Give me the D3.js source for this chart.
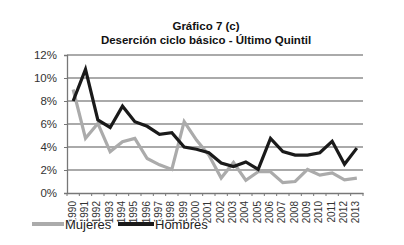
<!DOCTYPE html>
<html>
<head>
<meta charset="utf-8">
<script src="https://cdn.jsdelivr.net/npm/d3@7"></script>
<style>
  body { margin: 0; background: #fff; }
  text { font-family: "Liberation Sans", Arial, sans-serif; }
</style>
</head>
<body>
<div id="chart"></div>
<script>
const years = ["1990", "1991", "1992", "1993", "1994", "1995", "1996", "1997", "1998", "1999", "2000", "2001",
  "2002", "2003", "2004", "2005", "2006", "2007", "2008", "2009", "2010", "2011", "2012", "2013"];
const mujeres = [9.0, 4.75, 6.05, 3.6, 4.45, 4.75, 3.0, 2.45, 2.05, 6.2, 4.6, 3.3,
  1.3, 2.65, 1.1, 1.85, 1.85, 0.9, 1.0, 2.05, 1.55, 1.75, 1.15, 1.3];
const hombres = [8.0, 10.75, 6.35, 5.7, 7.55, 6.2, 5.8, 5.1, 5.25, 4.0, 3.8, 3.5,
  2.6, 2.3, 2.7, 2.05, 4.75, 3.6, 3.3, 3.3, 3.5, 4.5, 2.5, 3.9];
const yTicks = [0, 2, 4, 6, 8, 10, 12];
const titleLines = ["Gráfico 7 (c)", "Deserción ciclo básico - Último Quintil"];

const W = 404, H = 245;
const margin = { left: 67, right: 363, top: 55, bottom: 193 };

const svg = d3.select("#chart").append("svg")
  .attr("width", W).attr("height", H);

const x = d3.scaleBand().domain(years).range([margin.left, margin.right]);
const y = d3.scaleLinear().domain([0, 12]).range([margin.bottom, margin.top]);

// title
svg.selectAll(".title")
  .data(titleLines)
  .join("text")
  .attr("class", "title")
  .attr("x", 206)
  .attr("y", (d, i) => 30 + i * 13.5)
  .attr("text-anchor", "middle")
  .attr("font-size", 11.5)
  .attr("font-weight", "bold")
  .attr("fill", "#111")
  .text(d => d);

// gridlines
svg.append("g")
  .selectAll("line")
  .data(yTicks.filter(d => d > 0))
  .join("line")
  .attr("x1", margin.left).attr("x2", margin.right)
  .attr("y1", d => y(d)).attr("y2", d => y(d))
  .attr("stroke", "#8e8e8e")
  .attr("stroke-width", 1.3);

// y axis
const yAxis = svg.append("g")
  .attr("transform", `translate(${margin.left},0)`)
  .call(d3.axisLeft(y).tickValues(yTicks).tickSize(3).tickFormat(d => d + "%"));
yAxis.select(".domain").attr("stroke", "#777").attr("stroke-width", 1.3);
yAxis.selectAll(".tick line").attr("stroke", "#777");
yAxis.selectAll("text")
  .attr("font-family", "Liberation Sans, Arial, sans-serif")
  .attr("font-size", 11.5)
  .attr("fill", "#333")
  .attr("x", -10);

// x axis
const xAxis = svg.append("g")
  .attr("transform", `translate(0,${margin.bottom})`)
  .call(d3.axisBottom(x).tickSize(0));
xAxis.select(".domain").attr("stroke", "#777").attr("stroke-width", 1.3);
xAxis.selectAll("text")
  .attr("font-family", "Liberation Sans, Arial, sans-serif")
  .attr("font-size", 10)
  .attr("fill", "#333")
  .attr("transform", "rotate(-90)")
  .attr("text-anchor", "end")
  .attr("x", -8)
  .attr("y", -1)
  .attr("dy", "0.35em");

// boundary ticks
svg.append("g")
  .selectAll("line")
  .data(d3.range(years.length + 1))
  .join("line")
  .attr("x1", i => margin.left + i * x.step())
  .attr("x2", i => margin.left + i * x.step())
  .attr("y1", margin.bottom).attr("y2", margin.bottom + 3)
  .attr("stroke", "#777");

const line = d3.line()
  .x((d, i) => x(years[i]) + x.bandwidth() / 2)
  .y(d => y(d));

svg.append("path")
  .datum(mujeres)
  .attr("d", line)
  .attr("fill", "none")
  .attr("stroke", "#ababab")
  .attr("stroke-width", 3.2)
  .attr("stroke-linejoin", "miter");

svg.append("path")
  .datum(hombres)
  .attr("d", line)
  .attr("fill", "none")
  .attr("stroke", "#1a1a1a")
  .attr("stroke-width", 3.2)
  .attr("stroke-linejoin", "miter");

// legend
const legend = [
  { name: "Mujeres", color: "#ababab", x1: 32, x2: 64, tx: 65 },
  { name: "Hombres", color: "#1a1a1a", x1: 118, x2: 154, tx: 155 }
];
const lg = svg.append("g");
lg.selectAll("line")
  .data(legend)
  .join("line")
  .attr("x1", d => d.x1).attr("x2", d => d.x2)
  .attr("y1", 224).attr("y2", 224)
  .attr("stroke", d => d.color)
  .attr("stroke-width", 4);
lg.selectAll("text")
  .data(legend)
  .join("text")
  .attr("x", d => d.tx)
  .attr("y", 229)
  .attr("font-size", 13)
  .attr("fill", "#222")
  .attr("stroke", "#fff")
  .attr("stroke-width", 2)
  .attr("paint-order", "stroke")
  .text(d => d.name);
</script>
</body>
</html>
